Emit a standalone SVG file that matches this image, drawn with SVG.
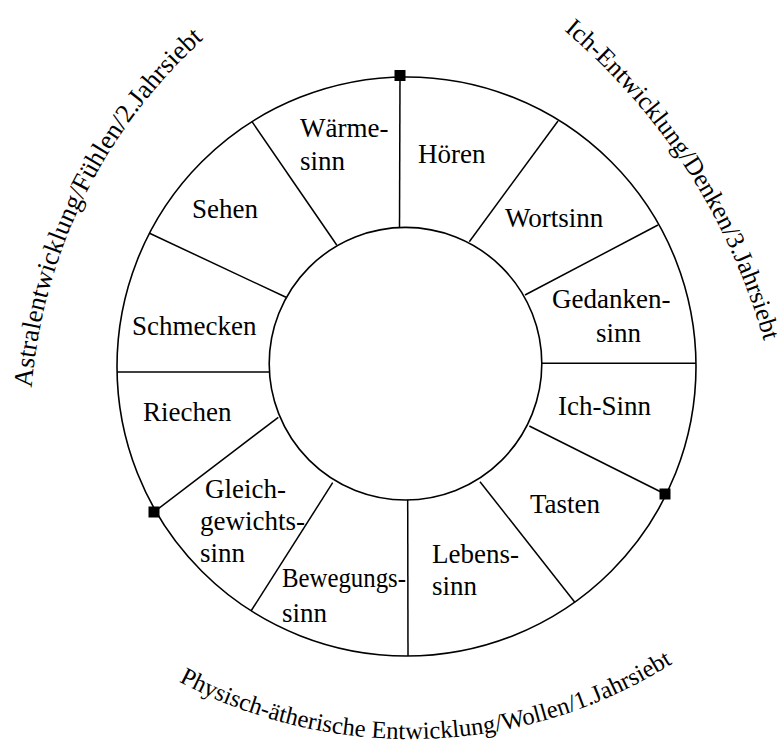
<svg xmlns="http://www.w3.org/2000/svg" width="783" height="745" viewBox="0 0 783 745">
  <style>
    .ring { fill: none; stroke: #000; stroke-width: 1.6; }
    .div { stroke: #000; stroke-width: 1.5; fill: none; }
    .lbl { font-family: "Liberation Serif", "Times New Roman", serif; font-size: 27px; fill: #000; }
    .arc { font-family: "Liberation Serif", "Times New Roman", serif; fill: #000; }
    .mk { fill: #000; }
  </style>
  <defs>
    <path id="pLeft" d="M 31.7 387.7 A 527 527 0 0 1 232.5 14.7"/>
    <path id="pRight" d="M 563.9 30.4 A 627 627 0 0 1 768.4 358.3"/>
    <path id="pBottom" d="M 178.8 681.6 A 494 494 0 0 0 714.1 634.3"/>
  </defs>
  <rect width="783" height="745" fill="#fff"/>

  <g id="wheel">
    <circle class="ring" cx="406.5" cy="366.5" r="289.5"/>
    <circle class="ring" cx="405.5" cy="363.7" r="136.3"/>
  </g>

  <g id="connectors">
    <line class="div" x1="400" y1="76" x2="399.5" y2="227.4"/>
    <line class="div" x1="252" y1="121.7" x2="336.7" y2="245"/>
    <line class="div" x1="149" y1="233" x2="286" y2="297.3"/>
    <line class="div" x1="117" y1="372" x2="269.3" y2="372"/>
    <line class="div" x1="154" y1="512" x2="278.3" y2="417.3"/>
    <line class="div" x1="251" y1="611" x2="332.7" y2="482.7"/>
    <line class="div" x1="408" y1="656" x2="407.7" y2="500"/>
    <line class="div" x1="575" y1="602.5" x2="480" y2="481.7"/>
    <line class="div" x1="665" y1="494" x2="529.3" y2="426"/>
    <line class="div" x1="696" y1="363.3" x2="541.7" y2="363.3"/>
    <line class="div" x1="658" y1="225" x2="525" y2="295"/>
    <line class="div" x1="558" y1="121" x2="469.3" y2="241.7"/>
  </g>

  <g id="markers">
    <rect class="mk" x="394.5" y="70" width="11" height="11"/>
    <rect class="mk" x="148.5" y="506.5" width="11" height="11"/>
    <rect class="mk" x="659.5" y="488.5" width="11" height="11"/>
  </g>

  <g id="hoeren"><text class="lbl" x="418" y="163">Hören</text></g>
  <g id="wortsinn"><text class="lbl" x="505" y="227">Wortsinn</text></g>
  <g id="gedankensinn"><text class="lbl" x="552" y="308">Gedanken-</text><text class="lbl" x="596" y="342">sinn</text></g>
  <g id="ichsinn"><text class="lbl" x="558" y="415">Ich-Sinn</text></g>
  <g id="tasten"><text class="lbl" x="530" y="513">Tasten</text></g>
  <g id="lebenssinn"><text class="lbl" x="432" y="563">Lebens-</text><text class="lbl" x="432" y="595">sinn</text></g>
  <g id="bewegungssinn"><text class="lbl" x="282" y="587" textLength="124" lengthAdjust="spacingAndGlyphs">Bewegungs-</text><text class="lbl" x="282" y="622">sinn</text></g>
  <g id="gleichgewichtssinn"><text class="lbl" x="205" y="498">Gleich-</text><text class="lbl" x="200" y="530">gewichts-</text><text class="lbl" x="200" y="562">sinn</text></g>
  <g id="riechen"><text class="lbl" x="143" y="421">Riechen</text></g>
  <g id="schmecken"><text class="lbl" x="132" y="335">Schmecken</text></g>
  <g id="sehen"><text class="lbl" x="192" y="218">Sehen</text></g>
  <g id="waermesinn"><text class="lbl" x="300" y="137">Wärme-</text><text class="lbl" x="300" y="170">sinn</text></g>

  <g id="astral"><text class="arc" font-size="26.5"><textPath href="#pLeft">Astralentwicklung/Fühlen/2.Jahrsiebt</textPath></text></g>
  <g id="ich"><text class="arc" font-size="25.5"><textPath href="#pRight">Ich-Entwicklung/Denken/3.Jahrsiebt</textPath></text></g>
  <g id="physisch"><text class="arc" font-size="24.6"><textPath href="#pBottom">Physisch-ätherische Entwicklung/Wollen/1.Jahrsiebt</textPath></text></g>
</svg>
